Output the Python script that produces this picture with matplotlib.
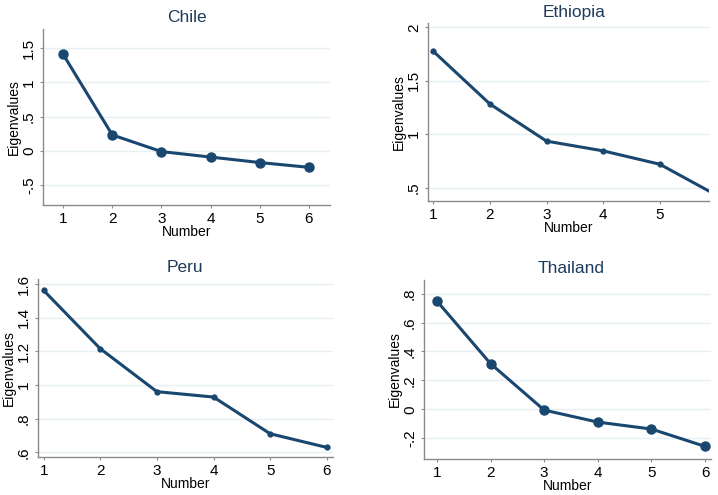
import matplotlib
matplotlib.use("Agg")
import matplotlib.pyplot as plt
import numpy as np

plt.rcParams['font.family'] = ['Liberation Sans', 'DejaVu Sans']

# eigenvalues
number = [1, 2, 3, 4, 5, 6]
chile = [1.41, 0.233, -0.01, -0.09, -0.17, -0.24]
ethiopia = [1.775, 1.282, 0.935, 0.844, 0.719, 0.43]
peru = [1.562, 1.216, 0.961, 0.929, 0.711, 0.630]
thailand = [0.749, 0.316, -0.005, -0.088, -0.136, -0.256]

chile_ticks = [-0.5, 0, 0.5, 1, 1.5]
chile_labels = ['-.5', '0', '.5', '1', '1.5']
ethiopia_ticks = [0.5, 1, 1.5, 2]
ethiopia_labels = ['.5', '1', '1.5', '2']
peru_ticks = [0.6, 0.8, 1.0, 1.2, 1.4, 1.6]
peru_labels = ['.6', '.8', '1', '1.2', '1.4', '1.6']
thailand_ticks = [-0.2, 0, 0.2, 0.4, 0.6, 0.8]
thailand_labels = ['-.2', '0', '.2', '.4', '.6', '.8']

W, H = 718, 495
fig = plt.figure(figsize=(W / 100, H / 100), dpi=100)
fig.patch.set_facecolor('white')

navy = '#1a476f'
grid = '#e6eff1'
spine = '#8a8a8a'

def panel(px, title, title_x, vals, ticks, labels, xlim, ylim, ms, xticks=number):
    l, t, r, b = px
    w, h = r - l, b - t
    ax = fig.add_axes([l / W, 1 - b / H, w / W, h / H])
    ax.plot(number, vals, color=navy, lw=2.2, marker='o', ms=ms, zorder=3)
    ax.set_xlim(*xlim)
    ax.set_ylim(*ylim)
    ax.set_yticks(ticks)
    ax.set_yticklabels(labels, rotation=90, va='center')
    ax.set_xticks(xticks)
    ax.grid(axis='y', color=grid, lw=1)
    ax.set_axisbelow(True)
    for s in ['top', 'right']:
        ax.spines[s].set_visible(False)
    for s in ['left', 'bottom']:
        ax.spines[s].set_color(spine)
        ax.spines[s].set_linewidth(1)
    ax.tick_params(colors=spine, labelcolor='black', length=2.5, labelsize=11, pad=2.5)
    ax.set_xlabel('Number', fontsize=10, va='center')
    ax.xaxis.set_label_coords(0.5, -26.5 / h)
    ax.set_ylabel('Eigenvalues', fontsize=10, va='center')
    ax.yaxis.set_label_coords(-29 / w, 0.5)
    ax.text((title_x - l) / w, 1 + 11 / h, title, transform=ax.transAxes,
            ha='center', va='center', fontsize=12.5, color='#1f3b5c')
    return ax

panel((43, 29, 330, 205), 'Chile', 186.5, chile, chile_ticks, chile_labels,
      (0.59, 6.43), (-0.79, 1.78), 6.5)
panel((428, 23, 709, 201), 'Ethiopia', 574.5, ethiopia, ethiopia_ticks, ethiopia_labels,
      (0.906, 5.87), (0.375, 2.04), 3.5, xticks=[1, 2, 3, 4, 5])
panel((38, 279, 333, 457), 'Peru', 185, peru, peru_ticks, peru_labels,
      (0.9, 6.11), (0.573, 1.63), 3.5)
panel((424, 280, 711, 459), 'Thailand', 571, thailand, thailand_ticks, thailand_labels,
      (0.76, 6.11), (-0.343, 0.894), 6.5)

fig.savefig('out.png', dpi=100, facecolor='white')
